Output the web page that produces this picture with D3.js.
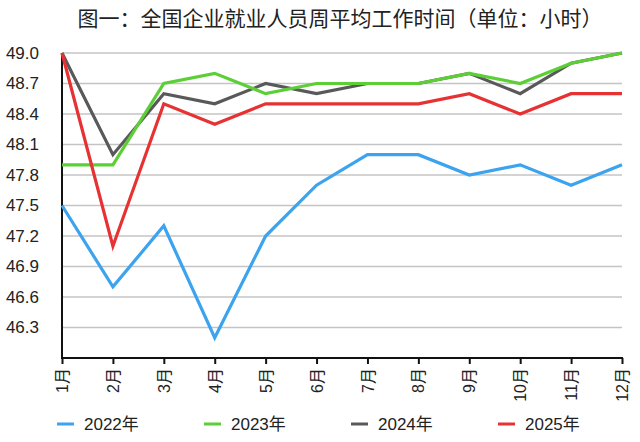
<!DOCTYPE html>
<html lang="zh">
<head>
  <meta charset="UTF-8">
  <title>全国企业就业人员周平均工作时间</title>
  <script src="https://d3js.org/d3.v7.min.js"></script>
  <style>
    body { margin: 0; background: #fff; }
    svg { display: block; }
  </style>
</head>
<body>
  <svg id="chart" width="640" height="442"></svg>
  <script>
    const months = ["1月","2月","3月","4月","5月","6月","7月","8月","9月","10月","11月","12月"];
    const yTicks = [46.3, 46.6, 46.9, 47.2, 47.5, 47.8, 48.1, 48.4, 48.7, 49.0];

    const v2022 = [47.5, 46.7, 47.3, 46.2, 47.2, 47.7, 48.0, 48.0, 47.8, 47.9, 47.7, 47.9];
    const v2023 = [47.9, 47.9, 48.7, 48.8, 48.6, 48.7, 48.7, 48.7, 48.8, 48.7, 48.9, 49.0];
    const v2024 = [49.0, 48.0, 48.6, 48.5, 48.7, 48.6, 48.7, 48.7, 48.8, 48.6, 48.9, 49.0];
    const v2025 = [49.0, 47.1, 48.5, 48.3, 48.5, 48.5, 48.5, 48.5, 48.6, 48.4, 48.6, 48.6];

    // legend order / draw order differ a bit (green sits over gray)
    const series = [
      { name: "2022年", values: v2022, color: "#3ca3ef" },
      { name: "2023年", values: v2023, color: "#5ccf37" },
      { name: "2024年", values: v2024, color: "#595959" },
      { name: "2025年", values: v2025, color: "#e63232" }
    ];
    const drawOrder = [0, 2, 1, 3];

    const svg = d3.select("#chart");
    const sans = "'Liberation Sans', Arial, 'Noto Sans CJK SC', sans-serif";

    const x = d3.scalePoint().domain(months).range([62, 622]);
    const y = d3.scaleLinear().domain([46.0, 49.0]).range([358, 53]);

    // title
    svg.append("text")
      .attr("x", 340).attr("y", 26)
      .attr("text-anchor", "middle")
      .style("font-family", "'Noto Sans CJK SC', sans-serif")
      .style("font-size", "21px")
      .style("fill", "#222")
      .text("图一：全国企业就业人员周平均工作时间（单位：小时）");

    // gridlines
    svg.append("g")
      .selectAll("line")
      .data(yTicks)
      .enter().append("line")
      .attr("x1", x(months[0])).attr("x2", x(months[11]))
      .attr("y1", d => y(d)).attr("y2", d => y(d))
      .attr("stroke", "#c4c4c4")
      .attr("stroke-width", 1.5);

    // y axis
    const yAxis = svg.append("g")
      .attr("transform", `translate(${x(months[0])},0)`)
      .call(d3.axisLeft(y).tickValues(yTicks).tickFormat(d3.format(".1f")).tickSize(0).tickPadding(23));
    yAxis.select(".domain").remove();
    yAxis.selectAll("text")
      .style("font-family", sans)
      .style("font-size", "17px")
      .style("fill", "#222");
    svg.append("line")
      .attr("x1", x(months[0])).attr("x2", x(months[0]))
      .attr("y1", y(49.0)).attr("y2", y(46.0))
      .attr("stroke", "#111").attr("stroke-width", 2);

    // x axis
    const xAxis = svg.append("g")
      .attr("transform", `translate(0,${y(46.0)})`)
      .call(d3.axisBottom(x).tickSize(6).tickSizeOuter(0));
    xAxis.select(".domain").attr("stroke", "#111").attr("stroke-width", 2)
      .attr("d", `M${x(months[0]) - 1},0H${x(months[11]) + 1}`);
    xAxis.selectAll(".tick line").attr("stroke", "#111").attr("stroke-width", 2);
    xAxis.selectAll("text")
      .attr("transform", "rotate(-90)")
      .attr("x", -10).attr("y", 0).attr("dy", "0.35em")
      .attr("text-anchor", "end")
      .style("font-family", sans)
      .style("font-size", "16px")
      .style("fill", "#222");

    // lines
    const line = d3.line()
      .x((d, i) => x(months[i]))
      .y(d => y(d));

    svg.append("g")
      .selectAll("path")
      .data(drawOrder.map(i => series[i]))
      .enter().append("path")
      .attr("d", d => line(d.values))
      .attr("fill", "none")
      .attr("stroke", d => d.color)
      .attr("stroke-width", 3.2)
      .attr("stroke-linejoin", "miter");

    // legend
    const legend = svg.append("g")
      .selectAll("g")
      .data(series)
      .enter().append("g")
      .attr("transform", (d, i) => `translate(${57 + i * 147},424)`);
    legend.append("line")
      .attr("x1", 0).attr("x2", 17)
      .attr("y1", 0).attr("y2", 0)
      .attr("stroke", d => d.color)
      .attr("stroke-width", 3);
    legend.append("text")
      .attr("x", 27).attr("y", 0).attr("dy", "0.36em")
      .style("font-family", sans)
      .style("font-size", "17px")
      .style("fill", "#222")
      .text(d => d.name);
  </script>
</body>
</html>
